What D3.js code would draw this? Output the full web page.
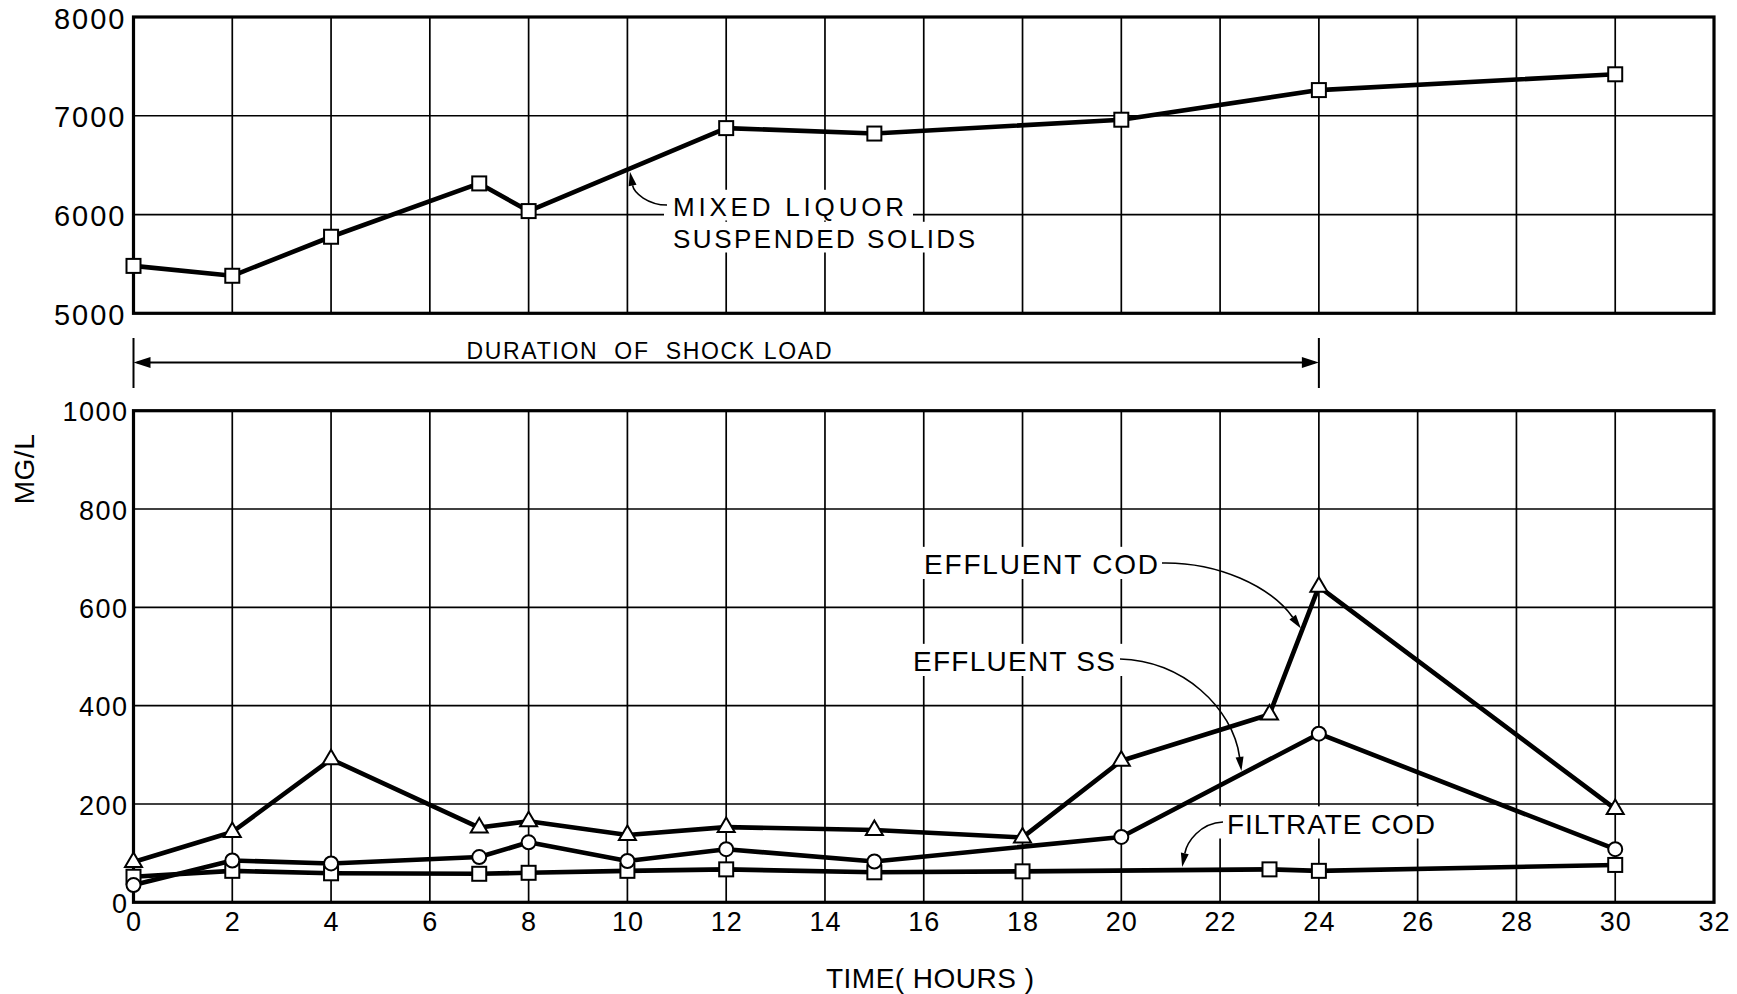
<!DOCTYPE html>
<html>
<head>
<meta charset="utf-8">
<script src="https://cdn.jsdelivr.net/npm/d3@7"></script>
<style>
  html, body { margin: 0; padding: 0; background: #fff; }
  svg { display: block; }
  text { font-family: "Liberation Sans", Arial, sans-serif; fill: #000; }
</style>
</head>
<body>
<svg id="chart" width="1737" height="994"></svg>
<script>
// ---- data ----
const hourTicks = [0, 2, 4, 6, 8, 10, 12, 14, 16, 18, 20, 22, 24, 26, 28, 30, 32];
const gridHours = [2, 4, 6, 8, 10, 12, 14, 16, 18, 20, 22, 24, 26, 28, 30];
const mlssTicks = [5000, 6000, 7000, 8000];
const mgTicks = [0, 200, 400, 600, 800, 1000];

// Mixed liquor suspended solids (mg/L)
const mlssHours = [0, 2, 4, 7, 8, 12, 15, 20, 24, 30];
const mlss = [5480, 5380, 5775, 6315, 6035, 6875, 6820, 6960, 7260, 7420];

// Effluent COD (mg/L)
const effCodHours = [0, 2, 4, 7, 8, 10, 12, 15, 18, 20, 23, 24, 30];
const effCod = [82, 143, 291, 152, 165, 137, 153, 147, 132, 288, 382, 642, 190];

// Effluent suspended solids (mg/L)
const effSsHours = [0, 2, 4, 7, 8, 10, 12, 15, 20, 24, 30];
const effSs = [35, 85, 79, 92, 122, 84, 108, 83, 133, 343, 108];

// Filtrate COD (mg/L)
const filtHours = [0, 2, 4, 7, 8, 10, 12, 15, 18, 23, 24, 30];
const filtCod = [52, 64, 59, 58, 60, 64, 67, 61, 63, 67, 64, 76];

// Shock load period (hours)
const shockStart = 0, shockEnd = 24;

// ---- layout ----
const svg = d3.select("#chart");
const FONT = '"Liberation Sans", Arial, sans-serif';

const x = d3.scaleLinear().domain([0, 32]).range([133.5, 1714]);
const yTop = d3.scaleLinear().domain([5000, 8000]).range([313.3, 17]);
const yBot = d3.scaleLinear().domain([0, 1000]).range([902.3, 410.7]);

const gGrid = svg.append("g");
const gBox = svg.append("g");
const gFrame = svg.append("g");
const gLines = svg.append("g");
const gMarks = svg.append("g");
const gText = svg.append("g");

function grid(yScale, hVals) {
  const [y0, y1] = yScale.range();
  gGrid.selectAll(null).data(gridHours).enter().append("line")
    .attr("x1", d => x(d)).attr("x2", d => x(d))
    .attr("y1", y1).attr("y2", y0)
    .attr("stroke", "#000").attr("stroke-width", 1.7);
  gGrid.selectAll(null).data(hVals).enter().append("line")
    .attr("x1", x(0)).attr("x2", x(32))
    .attr("y1", d => yScale(d)).attr("y2", d => yScale(d))
    .attr("stroke", "#000").attr("stroke-width", 1.7);
  gFrame.append("rect")
    .attr("x", x(0)).attr("y", y1)
    .attr("width", x(32) - x(0)).attr("height", y0 - y1)
    .attr("fill", "none").attr("stroke", "#000").attr("stroke-width", 3.2);
}
grid(yTop, [6000, 7000]);
grid(yBot, [200, 400, 600, 800]);

// ---- axes ----
function styleAxis(g, size, spacing) {
  g.select(".domain").remove();
  g.selectAll(".tick line").remove();
  g.selectAll("text")
    .attr("fill", "#000")
    .style("font-family", FONT)
    .style("font-size", size + "px")
    .style("letter-spacing", spacing + "px");
}

const axTop = svg.append("g").attr("transform", `translate(${x(0)},0)`)
  .call(d3.axisLeft(yTop).tickValues(mlssTicks).tickSize(0).tickPadding(7).tickFormat(d3.format("d")));
styleAxis(axTop, 29, 2);
axTop.selectAll("text").attr("dy", "0.38em");

const axBotY = svg.append("g").attr("transform", `translate(${x(0)},0)`)
  .call(d3.axisLeft(yBot).tickValues(mgTicks).tickSize(0).tickPadding(5).tickFormat(d3.format("d")));
styleAxis(axBotY, 27, 1.5);
axBotY.selectAll("text").attr("dy", "0.38em");

const axBotX = svg.append("g").attr("transform", `translate(0,${yBot(0)})`)
  .call(d3.axisBottom(x).tickValues(hourTicks).tickSize(0).tickPadding(9.5).tickFormat(d3.format("d")));
styleAxis(axBotX, 27, 1);

// axis titles
gText.append("text")
  .attr("x", 826).attr("y", 988)
  .attr("textLength", 208).attr("lengthAdjust", "spacing")
  .style("font-size", "28px").style("white-space", "pre")
  .text("TIME( HOURS )");

gText.append("text")
  .attr("transform", "translate(33.5,469) rotate(-90)")
  .attr("text-anchor", "middle")
  .style("font-size", "28px").style("letter-spacing", "0.5px")
  .text("MG/L");

// ---- series ----
const lineGen = (ys) => d3.line().x(d => x(d[0])).y(d => ys(d[1]));
const zip = (a, b) => a.map((v, i) => [v, b[i]]);

const series = [
  { pts: zip(mlssHours, mlss), y: yTop, shape: "square" },
  { pts: zip(filtHours, filtCod), y: yBot, shape: "square" },
  { pts: zip(effSsHours, effSs), y: yBot, shape: "circle" },
  { pts: zip(effCodHours, effCod), y: yBot, shape: "triangle" }
];

series.forEach(s => {
  gLines.append("path")
    .attr("d", lineGen(s.y)(s.pts))
    .attr("fill", "none").attr("stroke", "#000")
    .attr("stroke-width", 4.6).attr("stroke-linejoin", "round");
});

series.forEach(s => {
  const sel = gMarks.selectAll(null).data(s.pts).enter();
  if (s.shape === "square") {
    sel.append("rect")
      .attr("x", d => x(d[0]) - 7).attr("y", d => s.y(d[1]) - 7)
      .attr("width", 14).attr("height", 14)
      .attr("fill", "#fff").attr("stroke", "#000").attr("stroke-width", 2);
  } else if (s.shape === "circle") {
    sel.append("circle")
      .attr("cx", d => x(d[0])).attr("cy", d => s.y(d[1])).attr("r", 7)
      .attr("fill", "#fff").attr("stroke", "#000").attr("stroke-width", 2);
  } else {
    sel.append("path")
      .attr("transform", d => `translate(${x(d[0])},${s.y(d[1])})`)
      .attr("d", "M0,-9.5L8.5,5L-8.5,5Z")
      .attr("fill", "#fff").attr("stroke", "#000").attr("stroke-width", 2)
      .attr("stroke-linejoin", "miter");
  }
});

// ---- duration of shock load ----
const durY = 362.5;
const gDur = svg.append("g");
gDur.append("line")
  .attr("x1", x(shockStart) + 4).attr("x2", x(shockEnd) - 4)
  .attr("y1", durY).attr("y2", durY)
  .attr("stroke", "#000").attr("stroke-width", 2);
[shockStart, shockEnd].forEach(t => {
  gDur.append("line")
    .attr("x1", x(t)).attr("x2", x(t)).attr("y1", 338).attr("y2", 388)
    .attr("stroke", "#000").attr("stroke-width", 2);
});
const ah = 17, aw = 5.5;
gDur.append("path")
  .attr("d", `M${x(shockStart)},${durY}L${x(shockStart) + ah},${durY - aw}L${x(shockStart) + ah},${durY + aw}Z`)
  .attr("fill", "#000");
gDur.append("path")
  .attr("d", `M${x(shockEnd)},${durY}L${x(shockEnd) - ah},${durY - aw}L${x(shockEnd) - ah},${durY + aw}Z`)
  .attr("fill", "#000");
gDur.append("text")
  .attr("x", 466.5).attr("y", 358.5)
  .attr("textLength", 365).attr("lengthAdjust", "spacing")
  .style("font-size", "23px").style("white-space", "pre")
  .text("DURATION  OF  SHOCK LOAD");

// ---- labels with knocked-out background ----
const labels = [
  { text: "MIXED LIQUOR", x: 673, y: 215.5, len: 231, size: 26 },
  { text: "SUSPENDED SOLIDS", x: 673, y: 247.5, len: 302, size: 26 },
  { text: "EFFLUENT COD", x: 924, y: 574, len: 234, size: 28 },
  { text: "EFFLUENT SS", x: 913, y: 671, len: 202, size: 28 },
  { text: "FILTRATE COD", x: 1227, y: 833.5, len: 208, size: 28 }
];
labels.forEach(l => {
  gText.append("text")
    .attr("x", l.x).attr("y", l.y)
    .attr("textLength", l.len).attr("lengthAdjust", "spacing")
    .style("font-size", l.size + "px")
    .text(l.text);
  const capTop = l.y - l.size * 0.72;
  gBox.append("rect")
    .attr("x", l.x - 9).attr("y", capTop - 7)
    .attr("width", l.len + 18).attr("height", l.y - capTop + 12)
    .attr("fill", "#fff");
});

// ---- leaders pointing at the curves ----
function pointOn(hours, vals, t) {
  for (let i = 0; i < hours.length - 1; i++) {
    if (t >= hours[i] && t <= hours[i + 1]) {
      const f = (t - hours[i]) / (hours[i + 1] - hours[i]);
      return vals[i] + f * (vals[i + 1] - vals[i]);
    }
  }
  return vals[vals.length - 1];
}

const leaders = [
  { start: [667, 205], c1: [648, 205], c2: [634, 193], t: 10.04, hours: mlssHours, vals: mlss, y: yTop, back: 3 },
  { start: [1162, 563], c1: [1218, 562], c2: [1270, 586], t: 23.66, hours: effCodHours, vals: effCod, y: yBot, back: 2 },
  { start: [1120, 659], c1: [1182, 660], c2: [1233, 708], t: 22.44, hours: effSsHours, vals: effSs, y: yBot, back: 3 },
  { start: [1223, 822], c1: [1200, 823], c2: [1187, 842], t: 21.22, hours: filtHours, vals: filtCod, y: yBot, back: 3 }
];
leaders.forEach(l => {
  let tx = x(l.t), ty = l.y(pointOn(l.hours, l.vals, l.t));
  const ang = Math.atan2(ty - l.c2[1], tx - l.c2[0]);
  tx -= l.back * Math.cos(ang); ty -= l.back * Math.sin(ang);
  const L = 14, w = 4;
  const bx = tx - L * Math.cos(ang), by = ty - L * Math.sin(ang);
  gText.append("path")
    .attr("d", `M${l.start[0]},${l.start[1]}C${l.c1[0]},${l.c1[1]} ${l.c2[0]},${l.c2[1]} ${bx},${by}`)
    .attr("fill", "none").attr("stroke", "#000").attr("stroke-width", 1.6);
  const px = -Math.sin(ang) * w, py = Math.cos(ang) * w;
  gText.append("path")
    .attr("d", `M${tx},${ty}L${bx + px},${by + py}L${bx - px},${by - py}Z`)
    .attr("fill", "#000");
});
</script>
</body>
</html>
